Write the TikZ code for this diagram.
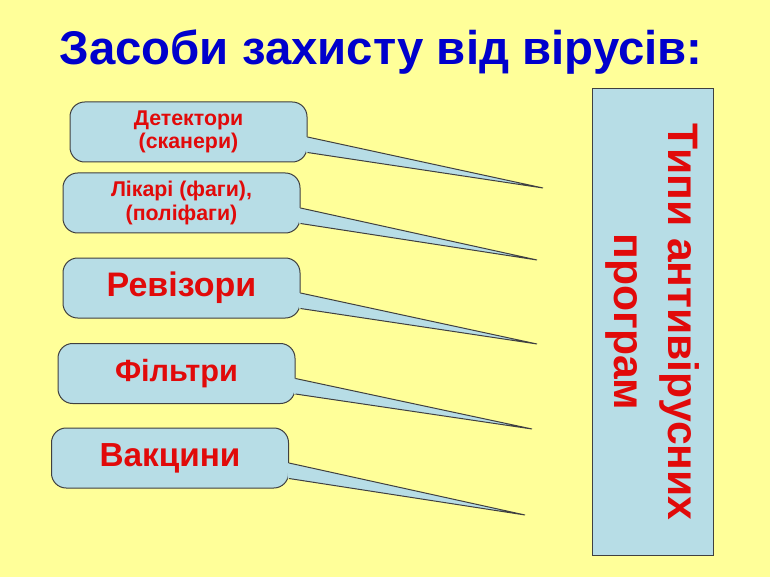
\documentclass[tikz,border=0pt]{standalone}
\usepackage{fontspec}
\setmainfont{Liberation Sans}
\usetikzlibrary{calc}

\definecolor{tlo}{RGB}{255,255,153}
\definecolor{blakytnyi}{RGB}{183,221,230}
\definecolor{zaholovok}{RGB}{0,0,204}
\definecolor{chervonyi}{RGB}{225,10,10}

\tikzset{
  zasib/.style={draw=black!75, line width=0.75pt, fill=blakytnyi,
    rounded corners=11pt, minimum width=177.75pt, minimum height=45pt,
    inner sep=0pt, align=center, text=chervonyi, font=\bfseries},
  khvist/.style={draw=black!75, line width=0.75pt},
}

\begin{document}
\begin{tikzpicture}[x=0.75pt,y=-0.75pt]
   % tlo
   \fill[tlo] (0,0) rectangle (770,577);
   \useasboundingbox (0,0) rectangle (770,577);
   % zaholovok
   \node[text=zaholovok, font=\bfseries\fontsize{35.5}{40}\selectfont] (zaholovok) at (381,52) {Засоби захисту від вірусів:};
   % zasoby
   \node[zasib, font=\bfseries\fontsize{16}{17.5}\selectfont] (z1) at (188.5,132) {Детектори\\(сканери)};
   \node[zasib, font=\bfseries\fontsize{16}{17.5}\selectfont] (z2) at (181.5,203) {Лікарі (фаги),\\(поліфаги)};
   \node[zasib, font=\bfseries\fontsize{25.5}{28}\selectfont] (z3) at (181.5,288) {Ревізори};
   \node[zasib, font=\bfseries\fontsize{23}{26}\selectfont] (z4) at (176.5,373.5) {Фільтри};
   \node[zasib, font=\bfseries\fontsize{25}{28}\selectfont] (z5) at (170,458) {Вакцини};
   % kintsi khvostiv
   \coordinate (t1) at (543,188);
   \coordinate (t2) at (537,260);
   \coordinate (t3) at (537,344);
   \coordinate (t4) at (532,429);
   \coordinate (t5) at (525,515);
   \foreach \i in {1,...,5} {
    \fill[blakytnyi] ($(z\i.east)+(-1.5,5)$) -- (t\i) -- ($(z\i.east)+(-1.5,20.5)$) -- cycle;
    \draw[khvist] ($(z\i.east)+(0,5)$) -- (t\i) -- ($(z\i.east)+(0,20.5)$);
   }
   % typy
   \node[draw=black!75, line width=0.75pt, fill=blakytnyi, rotate=-90,
     minimum width=349.5pt, minimum height=90.75pt, inner sep=0pt,
     align=center, text=chervonyi, font=\bfseries\fontsize{32}{40}\selectfont]
     (typy) at (652.5,322) {Типи антивірусних\\програм};
\end{tikzpicture}
\end{document}
